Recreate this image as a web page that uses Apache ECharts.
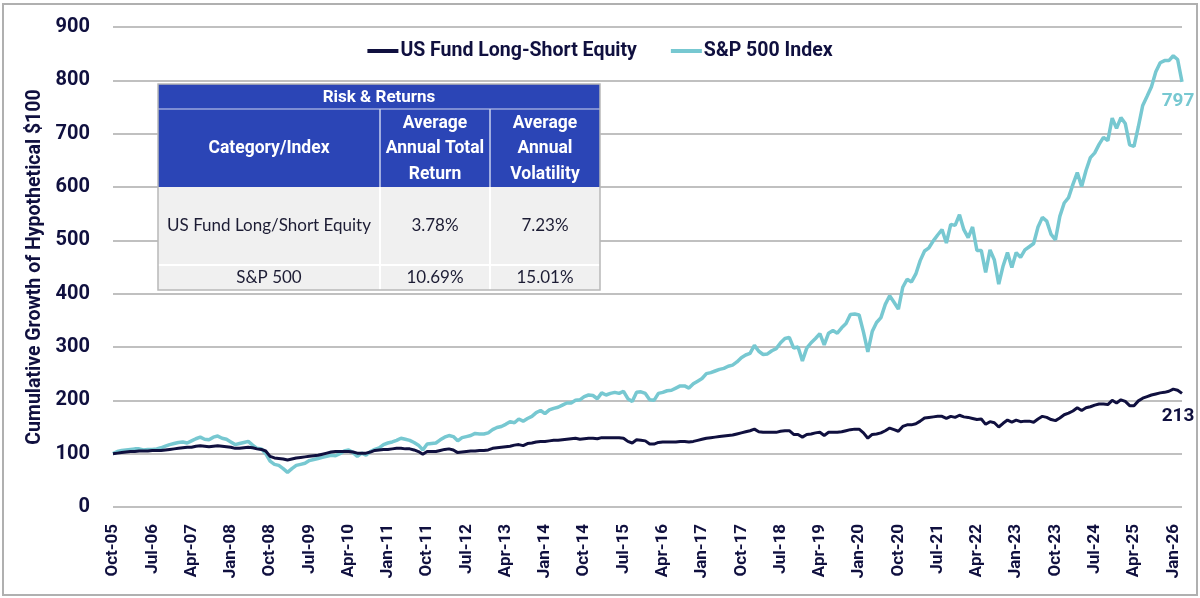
<!DOCTYPE html>
<html>
<head>
<meta charset="utf-8">
<title>US Fund Long-Short Equity vs S&amp;P 500</title>
<script src="https://cdn.jsdelivr.net/npm/echarts@6/dist/echarts.min.js"></script>
<style>
    * { margin: 0; padding: 0; }
    html, body { width: 100%; height: 100%; overflow: hidden; background: #fff; }
    #chart { width: 1200px; height: 598px; }
</style>
</head>
<body>
<div id="chart"></div>
<script>
    // monthly, Oct-05 .. Mar-26, growth of $100
    const monthNames = ['Jan', 'Feb', 'Mar', 'Apr', 'May', 'Jun', 'Jul', 'Aug', 'Sep', 'Oct', 'Nov', 'Dec'];
    const startYear = 2005;
    const startMonth = 9; // Oct

    const fundName = 'US Fund Long-Short Equity';
    const spxName = 'S&P 500 Index';

    const fundValues = [
        100, 101, 102, 103, 104, 104, 105, 105, 105, 106,
        106, 106, 107, 108, 109, 110, 111, 112, 112, 114,
        115, 114, 113, 114, 115, 114, 113, 112, 110, 110,
        111, 112, 111, 109, 108, 105, 95, 92, 91, 90,
        88, 90, 92, 93, 94, 95, 96, 97, 99, 101,
        103, 104, 104, 104, 104, 103, 101, 101, 101, 103,
        106, 107, 108, 108, 109, 110, 110, 109, 109, 107,
        104, 99, 104, 104, 104, 106, 108, 109, 107, 102,
        103, 104, 105, 105, 106, 106, 107, 110, 111, 112,
        113, 114, 116, 117, 115, 119, 120, 122, 123, 123,
        124, 125, 125, 126, 127, 128, 129, 127, 128, 129,
        129, 128, 130, 130, 130, 130, 130, 129, 123, 120,
        126, 125, 124, 118, 118, 121, 122, 122, 122, 122,
        123, 123, 122, 123, 125, 127, 129, 130, 131, 132,
        133, 134, 135, 137, 139, 141, 143, 146, 141, 140,
        140, 140, 140, 142, 143, 143, 136, 136, 131, 136,
        137, 139, 140, 134, 140, 140, 140, 141, 143, 145,
        146, 146, 139, 129, 136, 137, 139, 143, 148, 145,
        142, 151, 154, 154, 156, 161, 167, 168, 169, 170,
        170, 166, 170, 168, 172, 169, 168, 166, 164, 165,
        155, 160, 158, 150, 157, 163, 159, 163, 160, 161,
        161, 159, 165, 170, 168, 164, 162, 167, 173, 176,
        180, 186, 181, 186, 188, 191, 193, 193, 192, 200,
        195, 201, 198, 190, 190, 199, 204, 207, 210, 212,
        214, 215, 217, 221, 219, 213
    ];

    const spxValues = [
        100, 104, 106, 107, 108, 109, 109, 107, 108, 108,
        109, 111, 114, 117, 119, 121, 122, 120, 124, 128,
        131, 127, 126, 131, 133, 129, 127, 122, 117, 119,
        121, 123, 116, 110, 109, 100, 86, 80, 78, 72,
        65, 72, 78, 80, 82, 87, 89, 91, 93, 95,
        97, 96, 100, 105, 107, 102, 95, 101, 97, 104,
        108, 111, 117, 120, 122, 125, 129, 127, 125, 121,
        116, 107, 118, 119, 120, 126, 131, 134, 132, 124,
        130, 132, 134, 138, 137, 137, 139, 145, 149, 151,
        155, 160, 158, 165, 161, 166, 170, 177, 181, 175,
        182, 185, 187, 191, 195, 195, 200, 201, 207, 210,
        209, 203, 214, 210, 213, 215, 213, 217, 203, 198,
        215, 216, 213, 201, 200, 213, 215, 218, 219, 223,
        227, 227, 223, 231, 236, 241, 250, 252, 255, 258,
        260, 264, 266, 272, 280, 285, 288, 303, 292, 286,
        287, 293, 297, 308, 316, 318, 298, 300, 274, 298,
        308, 316, 325, 304, 326, 331, 326, 336, 344, 361,
        362, 360, 328, 291, 329, 346, 355, 380, 396, 384,
        371, 412, 427, 422, 437, 462, 480, 486, 499, 510,
        520, 495, 530, 528, 548, 520, 505, 525, 481, 481,
        440, 482, 463, 418, 452, 477, 449, 477, 468, 482,
        488, 494, 525, 543, 536, 511, 501, 545, 570, 580,
        605, 627, 601, 631, 655, 664, 680, 693, 687, 729,
        710, 730, 719, 679, 676, 713, 753, 770, 788, 816,
        833, 837, 837, 846, 839, 797
    ];

    const yTicks = [0, 100, 200, 300, 400, 500, 600, 700, 800, 900];

    const tableTitle = 'Risk & Returns';
    const tableHeader = ['Category/Index', 'Average\nAnnual Total\nReturn', 'Average\nAnnual\nVolatility'];
    const tableRows = [
        ['US Fund Long/Short Equity', '3.78%', '7.23%'],
        ['S&P 500', '10.69%', '15.01%']
    ];

    const months = [];
    for (let i = 0; i < spxValues.length; i++) {
        const m = (startMonth + i) % 12;
        const y = startYear + Math.floor((startMonth + i) / 12);
        months.push(monthNames[m] + '-' + String(y % 100).padStart(2, '0'));
    }

    const NAVY = '#10103f';
    const TEAL = '#77c8d1';
    const BLUE = '#2b45b6';
    const BOLD = 'Roboto';
    const PLAIN = 'Lato';

    // table overlay
    const colX = [158, 380, 490, 600];
    const rowY = [84, 109, 187, 265, 290];
    const Z = 100;
    const table = [];
    table.push({ type: 'rect', z: Z, shape: { x: colX[0], y: rowY[0], width: colX[3] - colX[0], height: rowY[2] - rowY[0] }, style: { fill: BLUE } });
    table.push({ type: 'rect', z: Z, shape: { x: colX[0], y: rowY[2], width: colX[3] - colX[0], height: rowY[4] - rowY[2] }, style: { fill: '#f0f0f0' } });
    table.push({ type: 'line', z: Z + 1, shape: { x1: colX[0], y1: rowY[1], x2: colX[3], y2: rowY[1] }, style: { stroke: '#9aa6dc', lineWidth: 1.5 } });
    table.push({ type: 'line', z: Z + 1, shape: { x1: colX[0], y1: rowY[3], x2: colX[3], y2: rowY[3] }, style: { stroke: '#ffffff', lineWidth: 2 } });
    [1, 2].forEach(c => {
        table.push({ type: 'line', z: Z + 1, shape: { x1: colX[c], y1: rowY[1], x2: colX[c], y2: rowY[2] }, style: { stroke: '#c9d0ee', lineWidth: 1.5 } });
        table.push({ type: 'line', z: Z + 1, shape: { x1: colX[c], y1: rowY[2], x2: colX[c], y2: rowY[4] }, style: { stroke: '#ffffff', lineWidth: 2 } });
    });
    table.push({ type: 'rect', z: Z + 2, shape: { x: colX[0], y: rowY[0], width: colX[3] - colX[0], height: rowY[4] - rowY[0] }, style: { fill: 'none', stroke: '#b8b8b8', lineWidth: 1.5 } });
    table.push({
        type: 'text', z: Z + 3, x: (colX[0] + colX[3]) / 2, y: (rowY[0] + rowY[1]) / 2 + 1,
        style: { text: tableTitle, fill: '#fff', font: 'bold 17px ' + BOLD, align: 'center', verticalAlign: 'middle' }
    });
    tableHeader.forEach((t, c) => {
        table.push({
            type: 'text', z: Z + 3, x: (colX[c] + colX[c + 1]) / 2, y: (rowY[1] + rowY[2]) / 2 + 1,
            style: { text: t, fill: '#fff', font: 'bold 17.5px ' + BOLD, lineHeight: 25.5, align: 'center', verticalAlign: 'middle' }
        });
    });
    tableRows.forEach((row, r) => {
        row.forEach((t, c) => {
            table.push({
                type: 'text', z: Z + 3, x: (colX[c] + colX[c + 1]) / 2, y: (rowY[r + 2] + rowY[r + 3]) / 2,
                style: { text: t, fill: '#1c1c34', font: '17px ' + PLAIN, align: 'center', verticalAlign: 'middle' }
            });
        });
    });

    function endMark(values, color, dist) {
        const last = values.length - 1;
        return {
            symbol: 'circle',
            symbolSize: 1,
            itemStyle: { color: 'rgba(0,0,0,0)' },
            label: {
                show: true, position: 'bottom', distance: dist, offset: [-4, 0],
                formatter: '{c}', color: color, fontFamily: BOLD, fontWeight: 'bold', fontSize: 19
            },
            data: [{ coord: [months[last], values[last]], value: values[last] }]
        };
    }

    const chart = echarts.init(document.getElementById('chart'));
    chart.setOption({
        animation: false,
        backgroundColor: '#fff',
        textStyle: { fontFamily: BOLD },
        graphic: [
            { type: 'rect', z: Z, shape: { x: 3, y: 4, width: 1194, height: 591 }, style: { fill: 'none', stroke: '#b0b0b0', lineWidth: 2 } },
            { type: 'group', children: table }
        ],
        legend: {
            top: 36,
            left: 'center',
            icon: 'rect',
            itemWidth: 31,
            itemHeight: 4,
            itemGap: 34,
            textStyle: { color: NAVY, fontFamily: BOLD, fontWeight: 'bold', fontSize: 19.5, padding: [0, 0, 0, -3] },
            data: [fundName, spxName]
        },
        grid: { left: 113, right: 18, top: 27, bottom: 91, containLabel: false },
        xAxis: {
            type: 'category',
            data: months,
            boundaryGap: false,
            axisLine: { show: false },
            axisTick: { show: false },
            axisLabel: {
                interval: 8, rotate: 90, margin: 17,
                color: NAVY, fontFamily: BOLD, fontWeight: 'bold', fontSize: 17
            },
            splitLine: { show: false }
        },
        yAxis: {
            type: 'value',
            min: yTicks[0],
            max: yTicks[yTicks.length - 1],
            interval: 100,
            name: 'Cumulative Growth of Hypothetical $100',
            nameLocation: 'middle',
            nameGap: 68,
            nameTextStyle: { color: NAVY, fontFamily: BOLD, fontWeight: 'bold', fontSize: 19.5 },
            axisLine: { show: false },
            axisTick: { show: false },
            axisLabel: { margin: 23, color: NAVY, fontFamily: BOLD, fontWeight: 'bold', fontSize: 20 },
            splitLine: { lineStyle: { color: '#ababab', width: 1.5 } }
        },
        series: [
            {
                name: fundName,
                type: 'line',
                data: fundValues,
                showSymbol: false,
                color: NAVY,
                lineStyle: { color: NAVY, width: 3 },
                z: 3,
                markPoint: endMark(fundValues, NAVY, 13)
            },
            {
                name: spxName,
                type: 'line',
                data: spxValues,
                showSymbol: false,
                color: TEAL,
                lineStyle: { color: TEAL, width: 3.5 },
                z: 2,
                markPoint: endMark(spxValues, TEAL, 9)
            }
        ]
    });
</script>
</body>
</html>
